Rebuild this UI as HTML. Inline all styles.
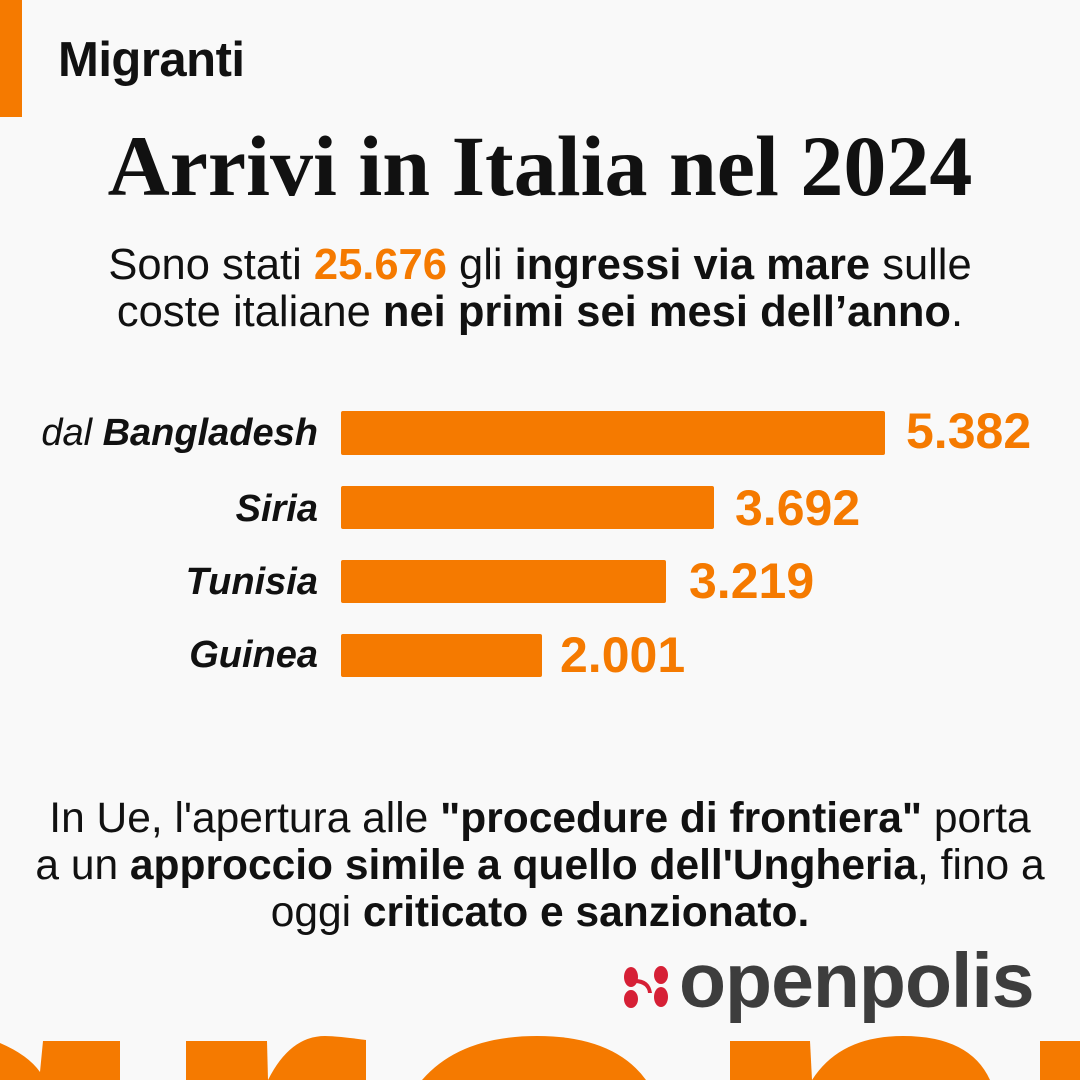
<!DOCTYPE html><html><head><meta charset="utf-8"><style>
body{margin:0;width:1080px;height:1080px;background:#f9f9f9;position:relative;overflow:hidden;font-family:"Liberation Sans",sans-serif;color:#111}
.a{position:absolute}
.bar{position:absolute;left:341px;background:#f57a00;border-radius:2px}
.lab{position:absolute;right:762px;font-size:38px;font-style:italic;font-weight:bold;white-space:nowrap}
.val{position:absolute;font-size:50px;font-weight:bold;color:#f57a00}
.c{position:absolute;left:0;width:1080px;text-align:center;white-space:nowrap}
</style></head><body>
<div class="a" style="left:0;top:0;width:22px;height:117px;background:#f57a00"></div>
<div class="a" style="left:58px;top:32px;font-size:49px;font-weight:bold;letter-spacing:-0.5px">Migranti</div>
<div class="c" style="top:116px;font-family:'Liberation Serif',serif;font-weight:bold;font-size:86px;">Arrivi in Italia nel 2024</div>
<div class="c" style="top:242px;font-size:43.5px;line-height:47px">Sono stati <b style="color:#f57a00">25.676</b> gli <b>ingressi via mare</b> sulle<br>coste italiane <b>nei primi sei mesi dell’anno</b>.</div>
<div class="lab" style="top:412px"><span style="font-weight:normal">dal </span>Bangladesh</div>
<div class="bar" style="top:411px;width:544px;height:44px"></div>
<div class="val" style="left:906px;top:402px">5.382</div>
<div class="lab" style="top:488px">Siria</div>
<div class="bar" style="top:486px;width:373px;height:43px"></div>
<div class="val" style="left:735px;top:479px">3.692</div>
<div class="lab" style="top:561px">Tunisia</div>
<div class="bar" style="top:560px;width:325px;height:43px"></div>
<div class="val" style="left:689px;top:552px">3.219</div>
<div class="lab" style="top:634px">Guinea</div>
<div class="bar" style="top:634px;width:201px;height:43px"></div>
<div class="val" style="left:560px;top:626px">2.001</div>
<div class="c" style="top:795px;font-size:42.5px;line-height:47px">In Ue, l'apertura alle <b>"procedure di frontiera"</b> porta<br>a un <b>approccio simile a quello dell'Ungheria</b>, fino a<br>oggi <b>criticato e sanzionato.</b></div>
<svg class="a" style="left:623px;top:965px" width="46" height="44" viewBox="0 0 46 44"><g fill="#d62036"><ellipse cx="8" cy="12" rx="7" ry="10"/><ellipse cx="38" cy="10" rx="7" ry="9"/><ellipse cx="8" cy="34" rx="7" ry="9"/><ellipse cx="38" cy="32" rx="7" ry="10"/><path d="M10 18 Q24 18 25 28 L29 28 Q27 14 12 14Z"/></g></svg>
<div class="a" style="left:679px;top:937px;font-size:77px;font-weight:bold;color:#3d3d3d;letter-spacing:-1px">openpolis</div>
<svg class="a" style="left:0;top:1030px" width="1080" height="50" viewBox="0 1030 1080 50"><g fill="#f57a00">
<path d="M0 1043 Q28 1055 40 1072 L43 1041 L120 1041 L120 1080 L0 1080Z"/>
<path d="M186 1041 L267 1041 L268 1080 L186 1080Z"/>
<path d="M268 1080 Q290 1036 325 1036 Q337 1036 366 1040 L366 1080Z"/>
<path d="M422 1080 Q460 1036 537 1036 Q614 1036 646 1080Z"/>
<path d="M730 1041 L810 1041 L812 1080 L730 1080Z"/>
<path d="M812 1080 Q840 1036 903 1036 Q970 1036 990 1080Z"/>
<path d="M1040 1041 L1080 1041 L1080 1080 L1040 1080Z"/>
</g></svg>
</body></html>
